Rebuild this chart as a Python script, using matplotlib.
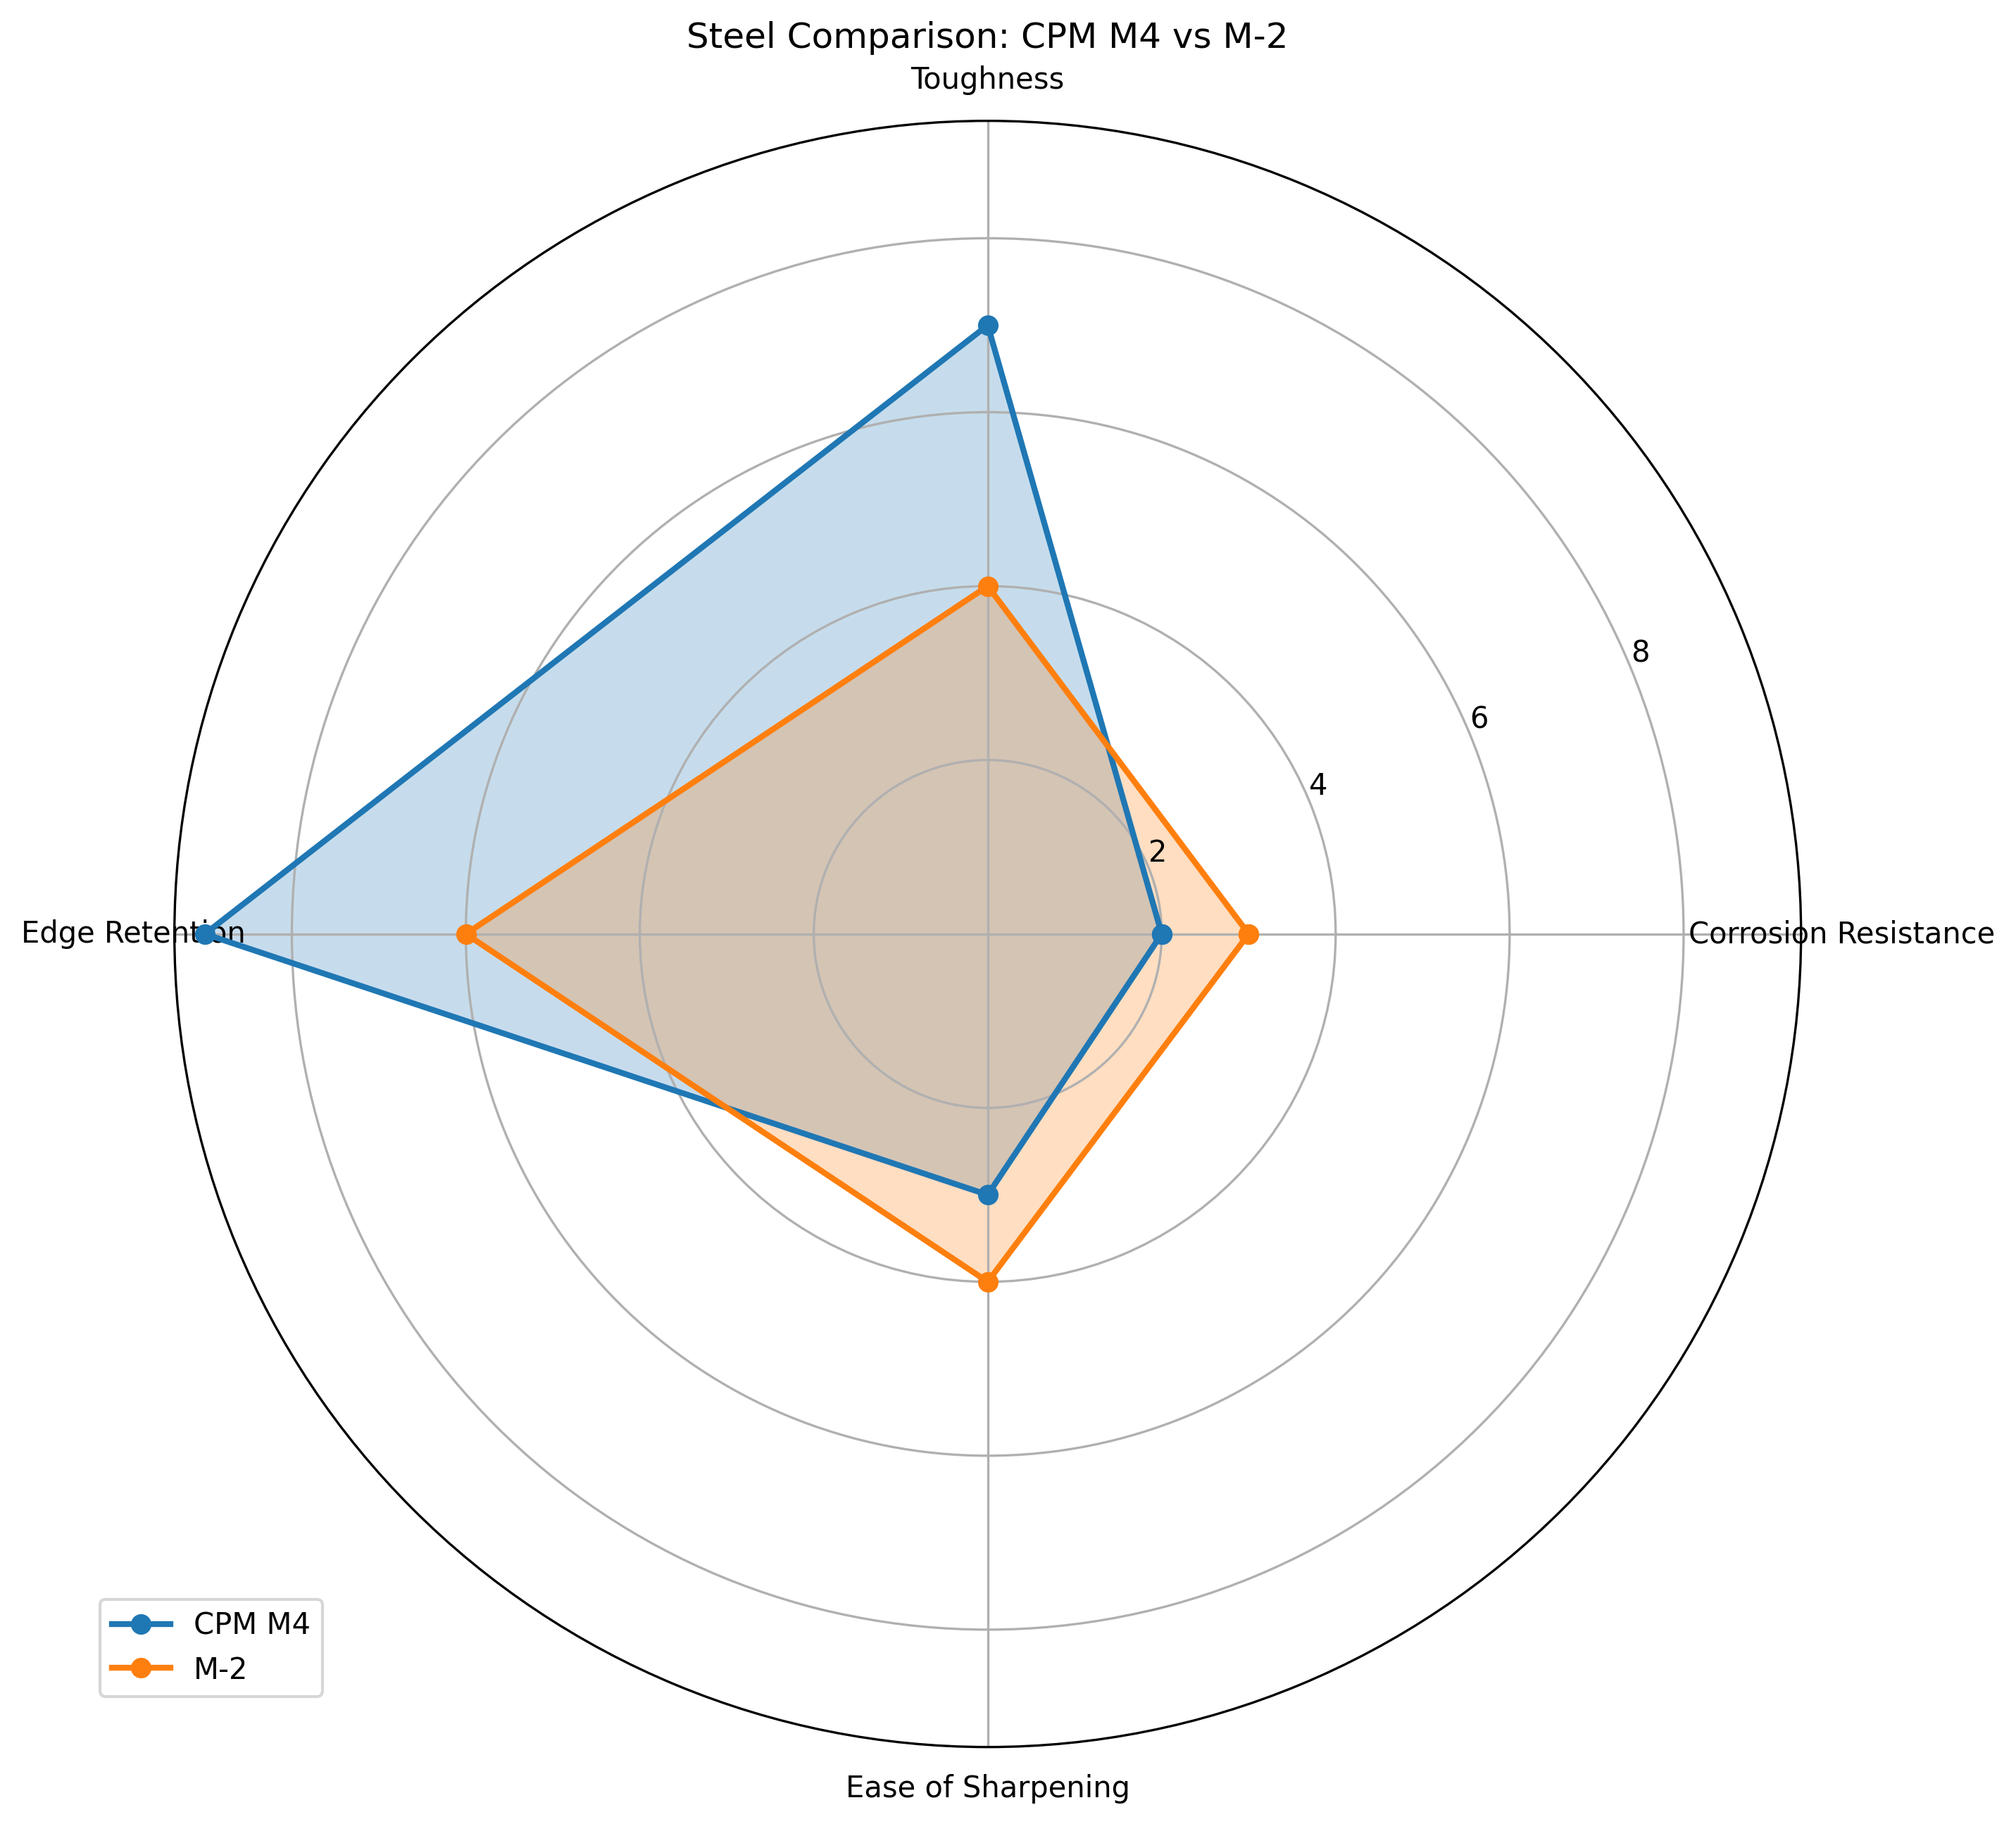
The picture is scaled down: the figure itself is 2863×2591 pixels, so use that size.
import numpy as np
import matplotlib.pyplot as plt

categories = ['Corrosion Resistance', 'Toughness', 'Edge Retention', 'Ease of Sharpening']
cpm_m4 = [2, 7, 9, 3]
m2 = [3, 4, 6, 4]

n = len(categories)
angles = np.linspace(0, 2 * np.pi, n, endpoint=False).tolist()
angles += angles[:1]

fig, ax = plt.subplots(figsize=(10, 10), subplot_kw=dict(polar=True))

for label, vals in [('CPM M4', cpm_m4), ('M-2', m2)]:
    v = vals + vals[:1]
    ax.plot(angles, v, 'o-', linewidth=2, label=label)
    ax.fill(angles, v, alpha=0.25)

ax.set_xticks(angles[:-1])
ax.set_xticklabels(categories)
ax.set_title('Steel Comparison: CPM M4 vs M-2')
ax.legend(loc='upper right', bbox_to_anchor=(0.1, 0.1))

plt.savefig('out.png', dpi=300, bbox_inches='tight')
